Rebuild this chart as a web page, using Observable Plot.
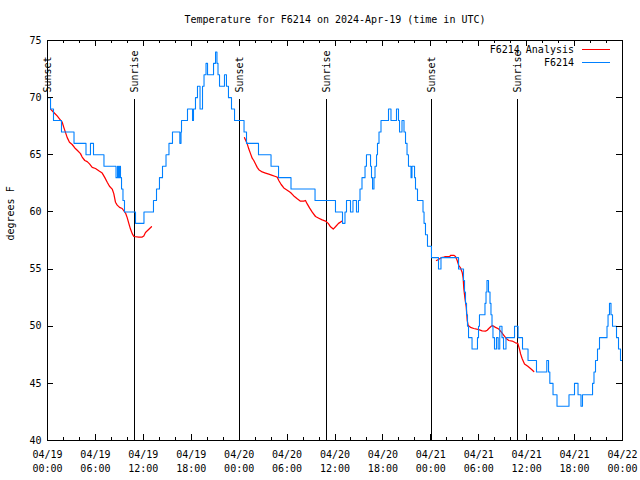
<!DOCTYPE html>
<html><head><meta charset="utf-8">
<script src="https://cdn.jsdelivr.net/npm/d3@7"></script>
<script src="https://cdn.jsdelivr.net/npm/@observablehq/plot@0.6"></script>
<style>body{margin:0;background:#fff}</style>
</head><body><div id="chart"></div>
<script>
const title = "Temperature for F6214 on 2024-Apr-19 (time in UTC)";
const yLabel = "degrees F";
const startDate = "2024-04-19T00:00:00Z";
const endDate = "2024-04-22T00:00:00Z";
const yTicks = [40, 45, 50, 55, 60, 65, 70, 75];
const eventHours = [0.06, 10.93, 24.04, 34.94, 48.08, 58.85];
const eventLabels = ["Sunset", "Sunrise", "Sunset", "Sunrise", "Sunset", "Sunrise"];
const seriesNames = ["F6214 Analysis", "F6214"];
const seriesColors = ["#ff0000", "#0080ff"];

// observed F6214: [hours since start, degrees F] (step data)
const observedF6214 = [[0,70],[0.38,69],[0.75,68],[1.75,67],[3.32,66],[4.82,65],[5.38,66],[5.76,65],[7.07,64],[8.58,63],[8.77,64],[8.89,63],[9.02,64],[9.14,63],[9.27,62],[9.45,61],[9.64,60],[11.02,59],[12.08,60],[13.27,61],[13.65,62],[14.02,63],[14.4,64],[14.84,65],[15.21,66],[15.65,67],[16.57,66],[16.72,67],[16.78,68],[17.53,69],[18.16,68],[18.28,69],[18.53,70],[18.78,71],[19.1,69],[19.41,71],[19.6,72],[19.85,73],[20.04,72],[20.79,73],[21.04,74],[21.22,73],[21.35,72],[21.54,71],[22.16,72],[22.41,71],[22.66,70],[23.04,69],[23.42,68],[24.61,67],[24.92,66],[26.42,65],[27.99,64],[28.93,63],[30.49,62],[33.5,61],[36.06,60],[36.94,59],[37.25,60],[37.44,61],[37.94,60],[38.25,61],[38.69,60],[38.94,61],[39.13,62],[39.38,63],[39.76,64],[39.94,65],[40.45,64],[40.57,63],[40.7,62],[40.88,63],[41.01,64],[41.2,65],[41.32,66],[41.51,67],[41.76,68],[42.7,69],[43.01,68],[43.7,69],[43.95,68],[44.08,67],[44.39,68],[44.64,67],[44.83,66],[45.02,65],[45.2,64],[45.52,63],[45.64,64],[45.96,63],[46.08,62],[46.33,61],[47.02,60],[47.15,59],[47.33,58],[47.58,57],[48.08,56],[48.96,55],[49.27,56],[51.47,55],[52.09,54],[52.22,53],[52.34,52],[52.47,51],[52.59,50],[52.72,49],[53.16,48],[53.84,49],[53.97,50],[54.09,51],[54.78,52],[54.91,53],[55.03,54],[55.22,53],[55.41,52],[55.53,51],[55.66,50],[55.78,49],[55.97,48],[56.22,49],[56.43,48],[56.63,50],[56.91,49],[57.1,48],[57.41,49],[58.48,50],[58.92,49],[59.48,48],[60.17,47],[61.23,46],[62.52,47],[62.74,46],[62.9,45],[63.3,44],[63.8,43],[65.3,44],[65.99,45],[66.43,44],[66.8,43],[66.99,44],[68.25,45],[68.43,46],[68.62,47],[68.87,48],[69.12,49],[70.06,50],[70.19,51],[70.37,52],[70.56,51],[70.75,50],[71.25,49],[71.5,48],[71.75,47],[71.9,47]];

// F6214 analysis segments: [hours since start, degrees F]
const analysis1 = [[0.38,69.0],[0.79,68.7],[1.21,68.4],[1.5,68.15],[1.84,67.85],[2.04,67.4],[2.25,66.96],[2.47,66.5],[2.75,66.1],[3.09,65.9],[3.42,65.6],[3.72,65.4],[4.13,65.1],[4.34,64.8],[4.67,64.5],[4.97,64.4],[5.26,64.2],[5.6,63.9],[6.01,63.8],[6.42,63.6],[6.85,63.4],[7.18,63.0],[7.48,62.6],[7.76,62.25],[8.1,62.0],[8.3,61.6],[8.51,60.85],[8.73,60.6],[9.02,60.4],[9.35,60.3],[9.77,59.9],[9.98,59.5],[10.18,59.0],[10.39,58.5],[10.61,58.1],[10.81,57.85],[11.43,57.8],[11.86,57.8],[12.06,57.9],[12.27,58.2],[13.02,58.7]];
const analysis2 = [[24.67,66.5],[25.01,65.96],[25.21,65.5],[25.42,65.1],[25.63,64.7],[25.83,64.5],[26.05,64.2],[26.26,63.9],[26.46,63.7],[26.88,63.5],[27.3,63.4],[27.71,63.3],[28.14,63.2],[28.55,63.1],[28.76,63.05],[28.96,62.75],[29.26,62.4],[29.59,62.1],[30.02,61.9],[30.43,61.7],[30.84,61.4],[31.27,61.15],[31.68,60.94],[32.09,60.94],[32.3,61.0],[32.52,60.7],[32.81,60.35],[33.15,59.98],[33.56,59.6],[33.97,59.45],[34.4,59.3],[34.81,59.2],[35.15,59.0],[35.44,58.7],[35.78,58.5],[36.06,58.7],[36.44,59.0],[36.9,59.2]];
const analysis3 = [[48.71,55.75],[49.0,55.85],[49.3,56.0],[49.62,56.04],[49.84,56.1],[50.38,56.1],[50.46,56.2],[50.88,56.2],[51.09,56.1],[51.3,55.75],[51.5,55.3],[51.72,55.1],[51.93,54.7],[52.05,54.2],[52.13,53.3],[52.26,52.5],[52.43,51.7],[52.56,50.5],[52.68,50.06],[52.97,49.9],[53.38,49.8],[54.01,49.7],[54.43,49.6],[54.85,49.57],[55.06,49.65],[55.26,49.8],[55.56,50.0],[55.72,50.06],[56.1,49.9],[56.51,49.75],[56.81,49.5],[57.14,49.2],[57.48,48.9],[57.76,48.75],[58.19,48.7],[58.6,48.55],[58.89,48.5],[59.1,48.0],[59.23,47.6],[59.44,47.15],[59.73,46.7],[60.14,46.5],[60.48,46.3],[60.89,46.04]];

const W = 640, H = 480, ML = 47, MR = 18, MT = 40, MB = 40;
const t0 = new Date(startDate), t1 = new Date(endDate);
const toDate = h => new Date(+t0 + h * 3600e3);

const obs = observedF6214.map(([h, T]) => ({time: toDate(h), temp: T}));
const ana = [analysis1, analysis2, analysis3].flatMap((seg, i) => seg.map(([h, T]) => ({time: toDate(h), temp: T, seg: i})));
const events = eventHours.map((h, i) => ({time: toDate(h), label: eventLabels[i]}));
const majorTicks = d3.utcHour.every(6).range(t0, new Date(+t1 + 1));
const minorTicks = d3.utcHour.every(2).range(t0, new Date(+t1 + 1)).filter(d => d.getUTCHours() % 6 !== 0);
const fw = W - ML - MR, fh = H - MT - MB;

const legend = () => {
  const g = d3.create("svg:g");
  const xr = W - MR;
  seriesNames.forEach((name, i) => {
    const y = MT + 9.5 + i * 13;
    g.append("text").attr("x", xr - 48).attr("y", y).attr("dy", "0.32em")
      .attr("text-anchor", "end").attr("fill", "black").text(name);
    g.append("line").attr("x1", xr - 40).attr("x2", xr - 12).attr("y1", y).attr("y2", y)
      .attr("stroke", seriesColors[i]).attr("stroke-width", 1).attr("shape-rendering", "crispEdges");
  });
  return g.node();
};

const chart = Plot.plot({
  width: W, height: H, marginLeft: ML, marginRight: MR, marginTop: MT, marginBottom: MB,
  style: {fontFamily: "'DejaVu Sans Mono', monospace", fontSize: "10px", color: "black", background: "white", overflow: "visible"},
  x: {type: "utc", domain: [t0, t1], label: null},
  y: {domain: [40, 75], label: null},
  marks: [
    Plot.ruleX(events, {x: "time", insetTop: 59, stroke: "black", strokeWidth: 1, shapeRendering: "crispEdges"}),
    Plot.text(events, {x: "time", text: "label", rotate: -90, textAnchor: "start", lineAnchor: "middle", frameAnchor: "top", dy: 52, fill: "black"}),
    Plot.line(ana, {x: "time", y: "temp", z: "seg", stroke: seriesColors[0], strokeWidth: 1.25}),
    Plot.line(obs, {x: "time", y: "temp", curve: "step-after", stroke: seriesColors[1], strokeWidth: 1.1}),
    Plot.frame({stroke: "black", shapeRendering: "crispEdges"}),
    Plot.ruleX(majorTicks, {insetTop: fh - 6, stroke: "black", shapeRendering: "crispEdges"}),
    Plot.ruleX(majorTicks, {insetBottom: fh - 6, stroke: "black", shapeRendering: "crispEdges"}),
    Plot.ruleX(minorTicks, {insetTop: fh - 3, stroke: "black", shapeRendering: "crispEdges"}),
    Plot.ruleX(minorTicks, {insetBottom: fh - 3, stroke: "black", shapeRendering: "crispEdges"}),
    Plot.ruleY(yTicks, {insetRight: fw - 6, stroke: "black", shapeRendering: "crispEdges"}),
    Plot.ruleY(yTicks, {insetLeft: fw - 6, stroke: "black", shapeRendering: "crispEdges"}),
    Plot.axisX(majorTicks, {tickFormat: d3.utcFormat("%m/%d\n%H:%M"), tickSize: 0, tickPadding: 8, lineHeight: 1.4, fill: "black", label: null}),
    Plot.axisY(yTicks, {tickSize: 0, tickPadding: 6, fill: "black", label: null}),
    Plot.text([yLabel], {frameAnchor: "left", rotate: -90, dx: -37, fill: "black"}),
    Plot.text([title], {frameAnchor: "top", lineAnchor: "middle", dy: -21, fill: "black"}),
    legend
  ]
});
document.getElementById("chart").appendChild(chart);
</script>
</body></html>
